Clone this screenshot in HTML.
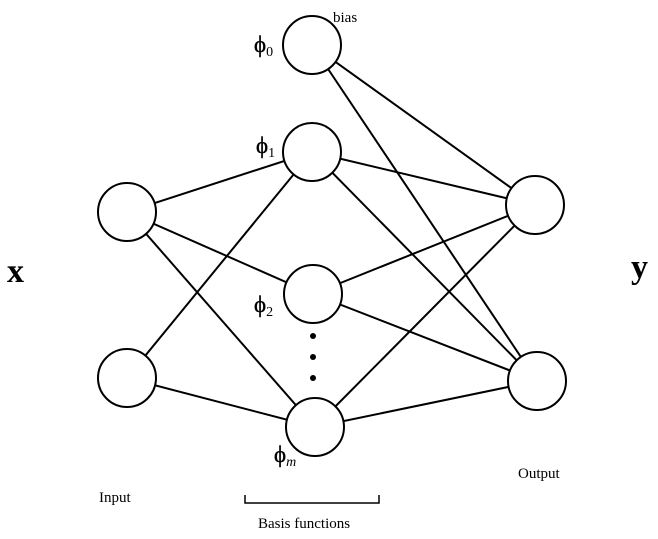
<!DOCTYPE html>
<html><head><style>body{margin:0;background:#fff}</style></head><body>
<svg width="658" height="539" xmlns="http://www.w3.org/2000/svg" style="display:block">
<g stroke="#000" stroke-width="2" fill="none">
<line x1="127" y1="212" x2="312" y2="152"/><line x1="127" y1="212" x2="313" y2="294"/><line x1="127" y1="212" x2="315" y2="427"/>
<line x1="127" y1="378" x2="312" y2="152"/><line x1="127" y1="378" x2="315" y2="427"/>
<line x1="312" y1="45" x2="535" y2="205"/><line x1="312" y1="45" x2="537" y2="381"/>
<line x1="312" y1="152" x2="535" y2="205"/><line x1="312" y1="152" x2="537" y2="381"/>
<line x1="313" y1="294" x2="535" y2="205"/><line x1="313" y1="294" x2="537" y2="381"/>
<line x1="315" y1="427" x2="535" y2="205"/><line x1="315" y1="427" x2="537" y2="381"/>
</g>
<g stroke="#000" stroke-width="2" fill="#fff">
<circle cx="312" cy="45" r="29"/><circle cx="312" cy="152" r="29"/><circle cx="313" cy="294" r="29"/><circle cx="315" cy="427" r="29"/>
<circle cx="127" cy="212" r="29"/><circle cx="127" cy="378" r="29"/>
<circle cx="535" cy="205" r="29"/><circle cx="537" cy="381" r="29"/>
</g>
<g fill="#000"><circle cx="313" cy="336" r="3"/><circle cx="313" cy="357" r="3"/><circle cx="313" cy="378" r="3"/></g>
<path d="M245 495 V503 H379 V495" stroke="#000" stroke-width="1.5" fill="none"/>
<g font-family="Liberation Serif, serif" fill="#000">
<text x="254" y="52" font-size="23" stroke="#000" stroke-width="0.4">ϕ<tspan font-size="14" dy="4" stroke-width="0">0</tspan></text>
<text x="333" y="22" font-size="15">bias</text>
<text x="256" y="153" font-size="23" stroke="#000" stroke-width="0.4">ϕ<tspan font-size="14" dy="4" stroke-width="0">1</tspan></text>
<text x="254" y="312" font-size="23" stroke="#000" stroke-width="0.4">ϕ<tspan font-size="14" dy="4" stroke-width="0">2</tspan></text>
<text x="274" y="462" font-size="23" stroke="#000" stroke-width="0.4">ϕ<tspan font-size="14" dy="4" font-style="italic" stroke-width="0">m</tspan></text>
<text x="99" y="502" font-size="15">Input</text>
<text x="518" y="478" font-size="15">Output</text>
<text x="258" y="528" font-size="15">Basis functions</text>
<text x="7" y="282" font-size="34" font-weight="bold">x</text>
<text x="631" y="278" font-size="34" font-weight="bold">y</text>
</g>
</svg>
</body></html>
